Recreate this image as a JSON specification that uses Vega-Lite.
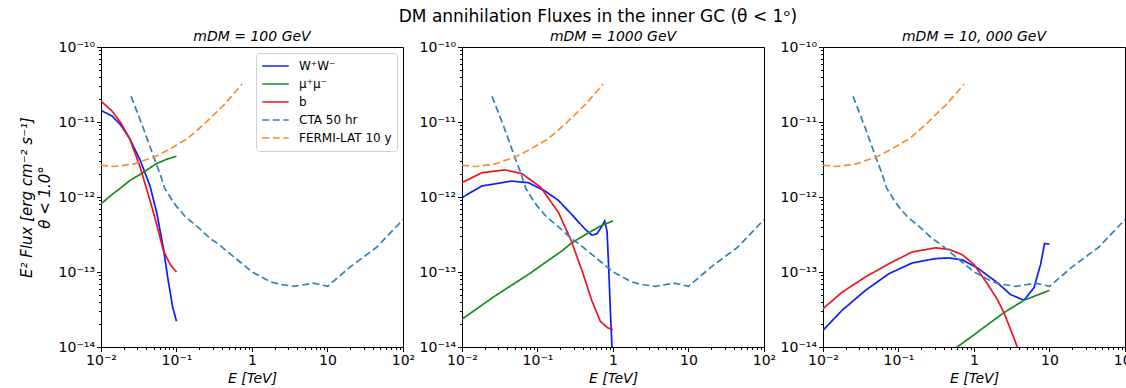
{
  "$schema": "https://vega.github.io/schema/vega-lite/v6.json",
  "padding": {"left": 18, "top": 7, "right": 0, "bottom": 0},
  "title": {"text": "DM annihilation Fluxes in the inner GC (θ < 1ᵒ)", "fontSize": 17, "font": "DejaVu Sans", "fontWeight": "normal", "fontStyle": "normal", "color": "#000", "anchor": "middle", "dx": 20, "offset": 4},
  "datasets": {
    "dm": [
      {"p": 1, "s": "W⁺W⁻", "E": 0.01, "F": 1.43e-11},
      {"p": 1, "s": "W⁺W⁻", "E": 0.014, "F": 1.2e-11},
      {"p": 1, "s": "W⁺W⁻", "E": 0.018, "F": 9.3e-12},
      {"p": 1, "s": "W⁺W⁻", "E": 0.024, "F": 6.0e-12},
      {"p": 1, "s": "W⁺W⁻", "E": 0.033, "F": 3.1e-12},
      {"p": 1, "s": "W⁺W⁻", "E": 0.0446, "F": 1.4e-12},
      {"p": 1, "s": "W⁺W⁻", "E": 0.0547, "F": 6.2e-13},
      {"p": 1, "s": "W⁺W⁻", "E": 0.0669, "F": 2.1e-13},
      {"p": 1, "s": "W⁺W⁻", "E": 0.0778, "F": 7.6e-14},
      {"p": 1, "s": "W⁺W⁻", "E": 0.089, "F": 3.4e-14},
      {"p": 1, "s": "W⁺W⁻", "E": 0.1, "F": 2.2e-14},
      {"p": 1, "s": "μ⁺μ⁻", "E": 0.01, "F": 8.1e-13},
      {"p": 1, "s": "μ⁺μ⁻", "E": 0.014, "F": 1.08e-12},
      {"p": 1, "s": "μ⁺μ⁻", "E": 0.0179, "F": 1.3e-12},
      {"p": 1, "s": "μ⁺μ⁻", "E": 0.024, "F": 1.65e-12},
      {"p": 1, "s": "μ⁺μ⁻", "E": 0.033, "F": 2.0e-12},
      {"p": 1, "s": "μ⁺μ⁻", "E": 0.0547, "F": 2.8e-12},
      {"p": 1, "s": "μ⁺μ⁻", "E": 0.075, "F": 3.2e-12},
      {"p": 1, "s": "μ⁺μ⁻", "E": 0.1, "F": 3.5e-12},
      {"p": 1, "s": "b", "E": 0.01, "F": 1.9e-11},
      {"p": 1, "s": "b", "E": 0.014, "F": 1.4e-11},
      {"p": 1, "s": "b", "E": 0.018, "F": 1.0e-11},
      {"p": 1, "s": "b", "E": 0.024, "F": 6.0e-12},
      {"p": 1, "s": "b", "E": 0.033, "F": 2.5e-12},
      {"p": 1, "s": "b", "E": 0.0446, "F": 9.0e-13},
      {"p": 1, "s": "b", "E": 0.0547, "F": 4.3e-13},
      {"p": 1, "s": "b", "E": 0.0669, "F": 1.95e-13},
      {"p": 1, "s": "b", "E": 0.082, "F": 1.27e-13},
      {"p": 1, "s": "b", "E": 0.1, "F": 1.0e-13},
      {"p": 2, "s": "W⁺W⁻", "E": 0.01, "F": 9.8e-13},
      {"p": 2, "s": "W⁺W⁻", "E": 0.0182, "F": 1.4e-12},
      {"p": 2, "s": "W⁺W⁻", "E": 0.0455, "F": 1.63e-12},
      {"p": 2, "s": "W⁺W⁻", "E": 0.076, "F": 1.55e-12},
      {"p": 2, "s": "W⁺W⁻", "E": 0.126, "F": 1.2e-12},
      {"p": 2, "s": "W⁺W⁻", "E": 0.19, "F": 9.0e-13},
      {"p": 2, "s": "W⁺W⁻", "E": 0.286, "F": 5.8e-13},
      {"p": 2, "s": "W⁺W⁻", "E": 0.43, "F": 3.7e-13},
      {"p": 2, "s": "W⁺W⁻", "E": 0.527, "F": 3.1e-13},
      {"p": 2, "s": "W⁺W⁻", "E": 0.614, "F": 3.24e-13},
      {"p": 2, "s": "W⁺W⁻", "E": 0.715, "F": 4.1e-13},
      {"p": 2, "s": "W⁺W⁻", "E": 0.776, "F": 4.8e-13},
      {"p": 2, "s": "W⁺W⁻", "E": 0.834, "F": 3.5e-13},
      {"p": 2, "s": "W⁺W⁻", "E": 0.877, "F": 1.14e-13},
      {"p": 2, "s": "W⁺W⁻", "E": 0.923, "F": 3.0e-14},
      {"p": 2, "s": "W⁺W⁻", "E": 0.97, "F": 1.0e-14},
      {"p": 2, "s": "W⁺W⁻", "E": 1.0, "F": 6e-15},
      {"p": 2, "s": "μ⁺μ⁻", "E": 0.01, "F": 2.35e-14},
      {"p": 2, "s": "μ⁺μ⁻", "E": 0.0274, "F": 4.8e-14},
      {"p": 2, "s": "μ⁺μ⁻", "E": 0.076, "F": 9.3e-14},
      {"p": 2, "s": "μ⁺μ⁻", "E": 0.209, "F": 1.9e-13},
      {"p": 2, "s": "μ⁺μ⁻", "E": 0.286, "F": 2.46e-13},
      {"p": 2, "s": "μ⁺μ⁻", "E": 0.477, "F": 3.34e-13},
      {"p": 2, "s": "μ⁺μ⁻", "E": 0.715, "F": 4.2e-13},
      {"p": 2, "s": "μ⁺μ⁻", "E": 1.0, "F": 4.8e-13},
      {"p": 2, "s": "b", "E": 0.01, "F": 1.55e-12},
      {"p": 2, "s": "b", "E": 0.0182, "F": 2.1e-12},
      {"p": 2, "s": "b", "E": 0.037, "F": 2.3e-12},
      {"p": 2, "s": "b", "E": 0.062, "F": 2.05e-12},
      {"p": 2, "s": "b", "E": 0.11, "F": 1.35e-12},
      {"p": 2, "s": "b", "E": 0.19, "F": 6.2e-13},
      {"p": 2, "s": "b", "E": 0.28, "F": 2.6e-13},
      {"p": 2, "s": "b", "E": 0.39, "F": 1.03e-13},
      {"p": 2, "s": "b", "E": 0.527, "F": 4.1e-14},
      {"p": 2, "s": "b", "E": 0.68, "F": 2.2e-14},
      {"p": 2, "s": "b", "E": 0.85, "F": 1.8e-14},
      {"p": 2, "s": "b", "E": 1.0, "F": 1.7e-14},
      {"p": 3, "s": "W⁺W⁻", "E": 0.01, "F": 1.67e-14},
      {"p": 3, "s": "W⁺W⁻", "E": 0.018, "F": 3.1e-14},
      {"p": 3, "s": "W⁺W⁻", "E": 0.0366, "F": 5.7e-14},
      {"p": 3, "s": "W⁺W⁻", "E": 0.0748, "F": 9.5e-14},
      {"p": 3, "s": "W⁺W⁻", "E": 0.152, "F": 1.32e-13},
      {"p": 3, "s": "W⁺W⁻", "E": 0.31, "F": 1.51e-13},
      {"p": 3, "s": "W⁺W⁻", "E": 0.467, "F": 1.54e-13},
      {"p": 3, "s": "W⁺W⁻", "E": 0.7, "F": 1.45e-13},
      {"p": 3, "s": "W⁺W⁻", "E": 1.1, "F": 1.14e-13},
      {"p": 3, "s": "W⁺W⁻", "E": 2.04, "F": 7.2e-14},
      {"p": 3, "s": "W⁺W⁻", "E": 3.05, "F": 5.0e-14},
      {"p": 3, "s": "W⁺W⁻", "E": 4.6, "F": 4.2e-14},
      {"p": 3, "s": "W⁺W⁻", "E": 6.24, "F": 6.2e-14},
      {"p": 3, "s": "W⁺W⁻", "E": 7.62, "F": 1.26e-13},
      {"p": 3, "s": "W⁺W⁻", "E": 8.6, "F": 2.4e-13},
      {"p": 3, "s": "W⁺W⁻", "E": 10, "F": 2.35e-13},
      {"p": 3, "s": "μ⁺μ⁻", "E": 0.4, "F": 8e-15},
      {"p": 3, "s": "μ⁺μ⁻", "E": 0.6, "F": 1.0e-14},
      {"p": 3, "s": "μ⁺μ⁻", "E": 0.95, "F": 1.4e-14},
      {"p": 3, "s": "μ⁺μ⁻", "E": 1.58, "F": 2.05e-14},
      {"p": 3, "s": "μ⁺μ⁻", "E": 2.49, "F": 2.87e-14},
      {"p": 3, "s": "μ⁺μ⁻", "E": 4.6, "F": 4.2e-14},
      {"p": 3, "s": "μ⁺μ⁻", "E": 10, "F": 5.7e-14},
      {"p": 3, "s": "b", "E": 0.01, "F": 3.24e-14},
      {"p": 3, "s": "b", "E": 0.018, "F": 5.4e-14},
      {"p": 3, "s": "b", "E": 0.0366, "F": 8.6e-14},
      {"p": 3, "s": "b", "E": 0.0748, "F": 1.29e-13},
      {"p": 3, "s": "b", "E": 0.152, "F": 1.85e-13},
      {"p": 3, "s": "b", "E": 0.31, "F": 2.1e-13},
      {"p": 3, "s": "b", "E": 0.467, "F": 2.0e-13},
      {"p": 3, "s": "b", "E": 0.7, "F": 1.7e-13},
      {"p": 3, "s": "b", "E": 1.0, "F": 1.26e-13},
      {"p": 3, "s": "b", "E": 1.5, "F": 7.0e-14},
      {"p": 3, "s": "b", "E": 2.04, "F": 4.3e-14},
      {"p": 3, "s": "b", "E": 2.49, "F": 2.87e-14},
      {"p": 3, "s": "b", "E": 3.05, "F": 1.72e-14},
      {"p": 3, "s": "b", "E": 3.75, "F": 1.0e-14},
      {"p": 3, "s": "b", "E": 4.3, "F": 6.5e-15}
    ],
    "sens": [
      {"s": "CTA 50 hr", "E": 0.025, "F": 2.2e-11},
      {"s": "CTA 50 hr", "E": 0.036, "F": 8.5e-12},
      {"s": "CTA 50 hr", "E": 0.05, "F": 3.4e-12},
      {"s": "CTA 50 hr", "E": 0.06, "F": 2.1e-12},
      {"s": "CTA 50 hr", "E": 0.07, "F": 1.3e-12},
      {"s": "CTA 50 hr", "E": 0.085, "F": 9.5e-13},
      {"s": "CTA 50 hr", "E": 0.1, "F": 7.5e-13},
      {"s": "CTA 50 hr", "E": 0.13, "F": 5.5e-13},
      {"s": "CTA 50 hr", "E": 0.19, "F": 4.0e-13},
      {"s": "CTA 50 hr", "E": 0.28, "F": 2.8e-13},
      {"s": "CTA 50 hr", "E": 0.35, "F": 2.4e-13},
      {"s": "CTA 50 hr", "E": 0.57, "F": 1.6e-13},
      {"s": "CTA 50 hr", "E": 0.7, "F": 1.35e-13},
      {"s": "CTA 50 hr", "E": 1.0, "F": 1.0e-13},
      {"s": "CTA 50 hr", "E": 1.75, "F": 7.4e-14},
      {"s": "CTA 50 hr", "E": 2.25, "F": 6.9e-14},
      {"s": "CTA 50 hr", "E": 3.6, "F": 6.45e-14},
      {"s": "CTA 50 hr", "E": 6.5, "F": 7.1e-14},
      {"s": "CTA 50 hr", "E": 10, "F": 6.45e-14},
      {"s": "CTA 50 hr", "E": 20, "F": 1.17e-13},
      {"s": "CTA 50 hr", "E": 45, "F": 2.15e-13},
      {"s": "CTA 50 hr", "E": 100, "F": 5.0e-13},
      {"s": "FERMI-LAT 10 y", "E": 0.01, "F": 2.65e-12},
      {"s": "FERMI-LAT 10 y", "E": 0.015, "F": 2.55e-12},
      {"s": "FERMI-LAT 10 y", "E": 0.027, "F": 2.75e-12},
      {"s": "FERMI-LAT 10 y", "E": 0.05, "F": 3.4e-12},
      {"s": "FERMI-LAT 10 y", "E": 0.083, "F": 4.4e-12},
      {"s": "FERMI-LAT 10 y", "E": 0.12, "F": 5.5e-12},
      {"s": "FERMI-LAT 10 y", "E": 0.14, "F": 6.0e-12},
      {"s": "FERMI-LAT 10 y", "E": 0.23, "F": 9.3e-12},
      {"s": "FERMI-LAT 10 y", "E": 0.42, "F": 1.67e-11},
      {"s": "FERMI-LAT 10 y", "E": 0.74, "F": 3.2e-11}
    ]
  },
  "spacing": 59,
  "bounds": "flush",
  "resolve": {"legend": {"color": "independent", "strokeDash": "independent"}},
  "hconcat": [
    {
      "width": 302, "height": 300,
      "title": {"text": "mDM = 100 GeV"},
      "encoding": {
        "x": {"field": "E", "type": "quantitative", "scale": {"type": "log", "domain": [0.01, 100], "nice": false}, "axis": {"title": "E [TeV]", "values": [0.01,0.02,0.03,0.04,0.05,0.06,0.07,0.08,0.09,0.1,0.2,0.3,0.4,0.5,0.6,0.7,0.8,0.9,1,2,3,4,5,6,7,8,9,10,20,30,40,50,60,70,80,90,100], "labelExpr": "abs(datum.value/0.01-1)<0.01 ? '10⁻²' : abs(datum.value/0.1-1)<0.01 ? '10⁻¹' : abs(datum.value-1)<0.01 ? '1' : abs(datum.value-10)<0.01 ? '10' : abs(datum.value-100)<0.01 ? '10²' : ''", "tickSize": {"condition": {"test": "abs(log(datum.value)/LN10 - round(log(datum.value)/LN10)) < 0.001", "value": 4.5}, "value": 2.5}}},
        "y": {"field": "F", "type": "quantitative", "scale": {"type": "log", "domain": [1e-14, 1e-10], "nice": false}, "axis": {"title": ["E² Flux [erg cm⁻² s⁻¹]", "θ < 1.0°"], "values": [1e-14,2e-14,3e-14,4e-14,5e-14,6e-14,7e-14,8e-14,9e-14,1e-13,2e-13,3e-13,4e-13,5e-13,6e-13,7e-13,8e-13,9e-13,1e-12,2e-12,3e-12,4e-12,5e-12,6e-12,7e-12,8e-12,9e-12,1e-11,2e-11,3e-11,4e-11,5e-11,6e-11,7e-11,8e-11,9e-11,1e-10], "labelExpr": "abs(datum.value/1e-14-1)<0.01 ? '10⁻¹⁴' : abs(datum.value/1e-13-1)<0.01 ? '10⁻¹³' : abs(datum.value/1e-12-1)<0.01 ? '10⁻¹²' : abs(datum.value/1e-11-1)<0.01 ? '10⁻¹¹' : abs(datum.value/1e-10-1)<0.01 ? '10⁻¹⁰' : ''", "tickSize": {"condition": {"test": "abs(log(datum.value)/LN10 - round(log(datum.value)/LN10)) < 0.001", "value": 4.5}, "value": 2.5}}},
        "color": {"field": "s", "type": "nominal", "scale": {"domain": ["W⁺W⁻", "μ⁺μ⁻", "b", "CTA 50 hr", "FERMI-LAT 10 y"], "range": ["#0a1eff", "#1a8a1a", "#f0141e", "#2b83b8", "#ff8a2a"]}, "legend": {"title": null, "orient": "top-right", "offset": 6}},
        "strokeDash": {"field": "s", "type": "nominal", "scale": {"domain": ["W⁺W⁻", "μ⁺μ⁻", "b", "CTA 50 hr", "FERMI-LAT 10 y"], "range": [[1, 0], [1, 0], [1, 0], [7, 3.5], [7, 3.5]]}, "legend": {"title": null, "orient": "top-right", "offset": 6}}
      },
      "layer": [
        {"data": {"name": "dm"}, "transform": [{"filter": "datum.p == 1"}], "mark": {"type": "line", "strokeWidth": 1.7, "clip": true}},
        {"data": {"name": "sens"}, "mark": {"type": "line", "strokeWidth": 1.7, "clip": true}}
      ]
    },
    {
      "width": 302, "height": 300,
      "title": {"text": "mDM = 1000 GeV"},
      "encoding": {
        "x": {"field": "E", "type": "quantitative", "scale": {"type": "log", "domain": [0.01, 100], "nice": false}, "axis": {"title": "E [TeV]", "values": [0.01,0.02,0.03,0.04,0.05,0.06,0.07,0.08,0.09,0.1,0.2,0.3,0.4,0.5,0.6,0.7,0.8,0.9,1,2,3,4,5,6,7,8,9,10,20,30,40,50,60,70,80,90,100], "labelExpr": "abs(datum.value/0.01-1)<0.01 ? '10⁻²' : abs(datum.value/0.1-1)<0.01 ? '10⁻¹' : abs(datum.value-1)<0.01 ? '1' : abs(datum.value-10)<0.01 ? '10' : abs(datum.value-100)<0.01 ? '10²' : ''", "tickSize": {"condition": {"test": "abs(log(datum.value)/LN10 - round(log(datum.value)/LN10)) < 0.001", "value": 4.5}, "value": 2.5}}},
        "y": {"field": "F", "type": "quantitative", "scale": {"type": "log", "domain": [1e-14, 1e-10], "nice": false}, "axis": {"title": null, "values": [1e-14,2e-14,3e-14,4e-14,5e-14,6e-14,7e-14,8e-14,9e-14,1e-13,2e-13,3e-13,4e-13,5e-13,6e-13,7e-13,8e-13,9e-13,1e-12,2e-12,3e-12,4e-12,5e-12,6e-12,7e-12,8e-12,9e-12,1e-11,2e-11,3e-11,4e-11,5e-11,6e-11,7e-11,8e-11,9e-11,1e-10], "labelExpr": "abs(datum.value/1e-14-1)<0.01 ? '10⁻¹⁴' : abs(datum.value/1e-13-1)<0.01 ? '10⁻¹³' : abs(datum.value/1e-12-1)<0.01 ? '10⁻¹²' : abs(datum.value/1e-11-1)<0.01 ? '10⁻¹¹' : abs(datum.value/1e-10-1)<0.01 ? '10⁻¹⁰' : ''", "tickSize": {"condition": {"test": "abs(log(datum.value)/LN10 - round(log(datum.value)/LN10)) < 0.001", "value": 4.5}, "value": 2.5}}},
        "color": {"field": "s", "type": "nominal", "scale": {"domain": ["W⁺W⁻", "μ⁺μ⁻", "b", "CTA 50 hr", "FERMI-LAT 10 y"], "range": ["#0a1eff", "#1a8a1a", "#f0141e", "#2b83b8", "#ff8a2a"]}, "legend": null},
        "strokeDash": {"field": "s", "type": "nominal", "scale": {"domain": ["W⁺W⁻", "μ⁺μ⁻", "b", "CTA 50 hr", "FERMI-LAT 10 y"], "range": [[1, 0], [1, 0], [1, 0], [7, 3.5], [7, 3.5]]}, "legend": null}
      },
      "layer": [
        {"data": {"name": "dm"}, "transform": [{"filter": "datum.p == 2"}], "mark": {"type": "line", "strokeWidth": 1.7, "clip": true}},
        {"data": {"name": "sens"}, "mark": {"type": "line", "strokeWidth": 1.7, "clip": true}}
      ]
    },
    {
      "width": 302, "height": 300,
      "title": {"text": "mDM = 10, 000 GeV"},
      "encoding": {
        "x": {"field": "E", "type": "quantitative", "scale": {"type": "log", "domain": [0.01, 100], "nice": false}, "axis": {"title": "E [TeV]", "values": [0.01,0.02,0.03,0.04,0.05,0.06,0.07,0.08,0.09,0.1,0.2,0.3,0.4,0.5,0.6,0.7,0.8,0.9,1,2,3,4,5,6,7,8,9,10,20,30,40,50,60,70,80,90,100], "labelExpr": "abs(datum.value/0.01-1)<0.01 ? '10⁻²' : abs(datum.value/0.1-1)<0.01 ? '10⁻¹' : abs(datum.value-1)<0.01 ? '1' : abs(datum.value-10)<0.01 ? '10' : abs(datum.value-100)<0.01 ? '10²' : ''", "tickSize": {"condition": {"test": "abs(log(datum.value)/LN10 - round(log(datum.value)/LN10)) < 0.001", "value": 4.5}, "value": 2.5}}},
        "y": {"field": "F", "type": "quantitative", "scale": {"type": "log", "domain": [1e-14, 1e-10], "nice": false}, "axis": {"title": null, "values": [1e-14,2e-14,3e-14,4e-14,5e-14,6e-14,7e-14,8e-14,9e-14,1e-13,2e-13,3e-13,4e-13,5e-13,6e-13,7e-13,8e-13,9e-13,1e-12,2e-12,3e-12,4e-12,5e-12,6e-12,7e-12,8e-12,9e-12,1e-11,2e-11,3e-11,4e-11,5e-11,6e-11,7e-11,8e-11,9e-11,1e-10], "labelExpr": "abs(datum.value/1e-14-1)<0.01 ? '10⁻¹⁴' : abs(datum.value/1e-13-1)<0.01 ? '10⁻¹³' : abs(datum.value/1e-12-1)<0.01 ? '10⁻¹²' : abs(datum.value/1e-11-1)<0.01 ? '10⁻¹¹' : abs(datum.value/1e-10-1)<0.01 ? '10⁻¹⁰' : ''", "tickSize": {"condition": {"test": "abs(log(datum.value)/LN10 - round(log(datum.value)/LN10)) < 0.001", "value": 4.5}, "value": 2.5}}},
        "color": {"field": "s", "type": "nominal", "scale": {"domain": ["W⁺W⁻", "μ⁺μ⁻", "b", "CTA 50 hr", "FERMI-LAT 10 y"], "range": ["#0a1eff", "#1a8a1a", "#f0141e", "#2b83b8", "#ff8a2a"]}, "legend": null},
        "strokeDash": {"field": "s", "type": "nominal", "scale": {"domain": ["W⁺W⁻", "μ⁺μ⁻", "b", "CTA 50 hr", "FERMI-LAT 10 y"], "range": [[1, 0], [1, 0], [1, 0], [7, 3.5], [7, 3.5]]}, "legend": null}
      },
      "layer": [
        {"data": {"name": "dm"}, "transform": [{"filter": "datum.p == 3"}], "mark": {"type": "line", "strokeWidth": 1.7, "clip": true}},
        {"data": {"name": "sens"}, "mark": {"type": "line", "strokeWidth": 1.7, "clip": true}}
      ]
    }
  ],
  "config": {
    "font": "DejaVu Sans",
    "background": "white",
    "view": {"stroke": "#000", "strokeWidth": 1},
    "axis": {"domain": false, "grid": false, "labelFont": "DejaVu Sans", "labelFontSize": 14, "labelColor": "#000", "labelPadding": 2, "tickColor": "#000", "titleFont": "DejaVu Sans", "titleFontSize": 14, "titleFontWeight": "normal", "titleFontStyle": "italic", "titleColor": "#000", "labelOverlap": false, "labelFlush": false, "titlePadding": 4},
    "axisY": {"titleLineHeight": 18, "titleFontSize": 15, "titlePadding": 6},
    "title": {"font": "DejaVu Sans", "fontSize": 14, "fontWeight": "normal", "fontStyle": "italic", "color": "#000", "offset": -4},
    "legend": {"symbolType": "stroke", "symbolSize": 700, "symbolStrokeWidth": 1.7, "labelFont": "DejaVu Sans", "labelFontSize": 12, "labelOffset": 9, "labelColor": "#000", "strokeColor": "#d0d0d0", "fillColor": "white", "padding": 5, "cornerRadius": 3, "rowPadding": 2, "clipHeight": 16}
  }
}
